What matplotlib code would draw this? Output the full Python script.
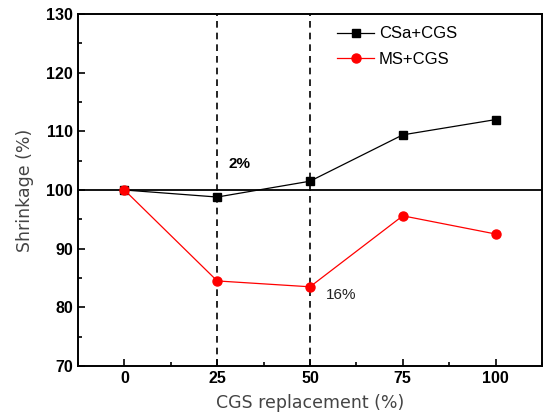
import matplotlib
matplotlib.use("Agg")
import matplotlib.pyplot as plt
from matplotlib.ticker import MultipleLocator

plt.rcParams['font.family'] = ['Liberation Sans', 'DejaVu Sans']

x = [0, 25, 50, 75, 100]
csa_cgs = [100.0, 98.8, 101.5, 109.4, 112.0]
ms_cgs = [100.0, 84.5, 83.5, 95.6, 92.5]
xticks = [0, 25, 50, 75, 100]
yticks = [70, 80, 90, 100, 110, 120, 130]

fig = plt.figure(figsize=(5.44, 4.16), dpi=100)
ax = fig.add_axes([78/544, 1-366/416, (542-78)/544, (366-14)/416])

ax.axhline(100, color='black', lw=1.3, zorder=1)
ax.axvline(25, color='black', lw=1.2, ls=(0, (4, 3)), zorder=1)
ax.axvline(50, color='black', lw=1.2, ls=(0, (4, 3)), zorder=1)

ax.plot(x, csa_cgs, color='black', lw=0.9, marker='s', ms=5.5, label='CSa+CGS', zorder=3)
ax.plot(x, ms_cgs, color='red', lw=0.9, marker='o', ms=6.5, label='MS+CGS', zorder=3)

ax.text(31, 104.5, '2%', fontsize=11, fontweight='bold', ha='center', va='center')
ax.text(58.4, 82.1, '16%', fontsize=11, ha='center', va='center', color='#222222')

ax.set_xlim(-12.5, 112.5)
ax.set_ylim(70, 130)
ax.set_xticks(xticks)
ax.set_yticks(yticks)
ax.xaxis.set_minor_locator(MultipleLocator(12.5))
ax.yaxis.set_minor_locator(MultipleLocator(5))
ax.tick_params(which='both', direction='in', width=1.2)
ax.tick_params(which='major', length=5)
ax.tick_params(which='minor', length=3)
ax.tick_params(axis='x', which='both', top=False)
ax.tick_params(axis='y', which='both', right=False)
for lab in ax.get_xticklabels() + ax.get_yticklabels():
    lab.set_fontweight('bold')
    lab.set_fontsize(11.5)
for s in ax.spines.values():
    s.set_linewidth(1.4)

ax.set_xlabel('CGS replacement (%)', fontsize=12.5, color='#444444', labelpad=6,
              family=['DejaVu Sans'])
ax.set_ylabel('Shrinkage (%)', fontsize=12.5, color='#444444', labelpad=9,
              family=['DejaVu Sans'])

ax.legend(loc='upper left', frameon=False, fontsize=12, handlelength=2.2,
          handletextpad=0.3, bbox_to_anchor=(0.534, 0.998), labelspacing=0.63,
          borderaxespad=0.3)

fig.savefig('out.png', dpi=100)
